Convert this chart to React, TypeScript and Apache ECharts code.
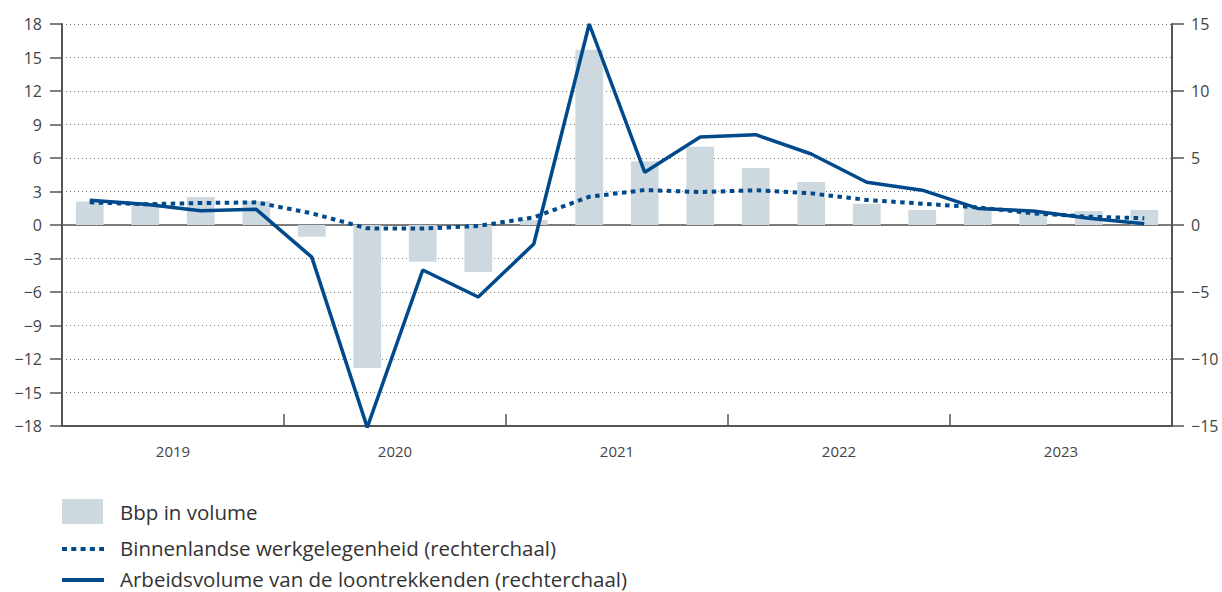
import React, { useEffect, useRef } from "react";
import * as echarts from "echarts";

const years = ["2019", "2020", "2021", "2022", "2023"];
const quarters = [
  "2019K1", "2019K2", "2019K3", "2019K4",
  "2020K1", "2020K2", "2020K3", "2020K4",
  "2021K1", "2021K2", "2021K3", "2021K4",
  "2022K1", "2022K2", "2022K3", "2022K4",
  "2023K1", "2023K2", "2023K3", "2023K4",
];
// Bbp in volume (left scale)
const bbp = [2.1, 2.0, 2.5, 2.15, -1.05, -12.8, -3.3, -4.2, 0.45, 15.7, 5.7, 7.0, 5.1, 3.85, 1.9, 1.35, 1.55, 1.2, 1.25, 1.35];
// Binnenlandse werkgelegenheid (right scale)
const werkgelegenheid = [1.69, 1.55, 1.64, 1.69, 0.87, -0.25, -0.27, -0.07, 0.57, 2.11, 2.61, 2.46, 2.59, 2.36, 1.87, 1.59, 1.32, 0.87, 0.62, 0.5];
// Arbeidsvolume van de loontrekkenden (right scale)
const arbeidsvolume = [1.85, 1.55, 1.07, 1.17, -2.4, -15.1, -3.36, -5.37, -1.42, 15.0, 3.93, 6.57, 6.74, 5.3, 3.19, 2.6, 1.24, 1.04, 0.5, 0.1];

const NAMES = [
  "Bbp in volume",
  "Binnenlandse werkgelegenheid (rechterchaal)",
  "Arbeidsvolume van de loontrekkenden (rechterchaal)",
];

const FONT = "'Open Sans', 'Noto Sans', sans-serif";
const BLUE = "#004a8c";
const BAR = "#cdd9df";
const AXIS = "#555";

const fmt = (v: number) => (v < 0 ? "\u2212" + Math.abs(v) : String(v));

export default function App() {
  const ref = useRef<HTMLDivElement>(null);
  useEffect(() => {
    const chart = echarts.init(ref.current!, null, { renderer: "svg" });
    const legendText = (y: number, text: string) => ({
      type: "text",
      left: 120,
      top: y - 13,
      style: { text, fontSize: 20.5, fill: "#333", fontFamily: FONT, lineHeight: 26, verticalAlign: "top" },
    });
    chart.setOption({
      animation: false,
      grid: { left: 62, right: 50, top: 24, bottom: 166 },
      graphic: [
        { type: "rect", shape: { x: 62, y: 499, width: 41, height: 25 }, style: { fill: BAR } },
        legendText(512, NAMES[0]),
        {
          type: "line",
          shape: { x1: 62, y1: 549, x2: 104, y2: 549 },
          style: { stroke: BLUE, lineWidth: 4, lineDash: [5, 4.3], lineCap: "butt" },
        },
        legendText(548, NAMES[1]),
        {
          type: "line",
          shape: { x1: 62, y1: 580, x2: 104, y2: 580 },
          style: { stroke: BLUE, lineWidth: 4 },
        },
        legendText(579, NAMES[2]),
      ],
      xAxis: [
        {
          type: "category",
          data: quarters,
          axisLine: { onZero: true, lineStyle: { color: AXIS, width: 1.5 } },
          axisTick: { show: false },
          axisLabel: { show: false },
          splitLine: { show: false },
        },
        {
          type: "category",
          data: years,
          position: "bottom",
          axisLine: { onZero: false, lineStyle: { color: AXIS, width: 2 } },
          axisTick: { show: true, inside: true, length: 12, lineStyle: { color: AXIS, width: 1.5 } },
          axisLabel: { fontSize: 15, color: "#444", fontFamily: FONT, margin: 17 },
          splitLine: { show: false },
        },
      ],
      yAxis: [
        {
          type: "value",
          min: -18,
          max: 18,
          interval: 3,
          axisLine: { show: true, lineStyle: { color: AXIS, width: 2 } },
          axisTick: { show: true, length: 12, lineStyle: { color: AXIS, width: 1.5 } },
          axisLabel: { fontSize: 16, color: "#444", fontFamily: FONT, margin: 20, formatter: fmt },
          splitLine: { show: true, lineStyle: { color: "#777", width: 1, type: [1, 3] } },
        },
        {
          type: "value",
          min: -15,
          max: 15,
          interval: 5,
          position: "right",
          axisLine: { show: true, lineStyle: { color: AXIS, width: 2 } },
          axisTick: { show: true, length: 12, lineStyle: { color: AXIS, width: 1.5 } },
          axisLabel: { fontSize: 16, color: "#444", fontFamily: FONT, margin: 19, formatter: fmt },
          splitLine: { show: false },
        },
      ],
      series: [
        {
          name: NAMES[0],
          type: "bar",
          xAxisIndex: 0,
          yAxisIndex: 0,
          data: bbp,
          barWidth: "50%",
          itemStyle: { color: BAR },
        },
        {
          name: NAMES[1],
          type: "line",
          xAxisIndex: 0,
          yAxisIndex: 1,
          data: werkgelegenheid,
          symbol: "none",
          clip: false,
          lineStyle: { color: BLUE, width: 4, type: [4.5, 4.5], cap: "butt" },
          itemStyle: { color: BLUE },
          z: 3,
        },
        {
          name: NAMES[2],
          type: "line",
          xAxisIndex: 0,
          yAxisIndex: 1,
          data: arbeidsvolume,
          symbol: "none",
          clip: false,
          lineStyle: { color: BLUE, width: 3.5 },
          itemStyle: { color: BLUE },
          z: 4,
        },
      ],
    });
    return () => chart.dispose();
  }, []);
  return (
    <div
      ref={ref}
      style={{ position: "fixed", left: 0, top: 0, width: 1222, height: 592, background: "#fff" }}
    />
  );
}
